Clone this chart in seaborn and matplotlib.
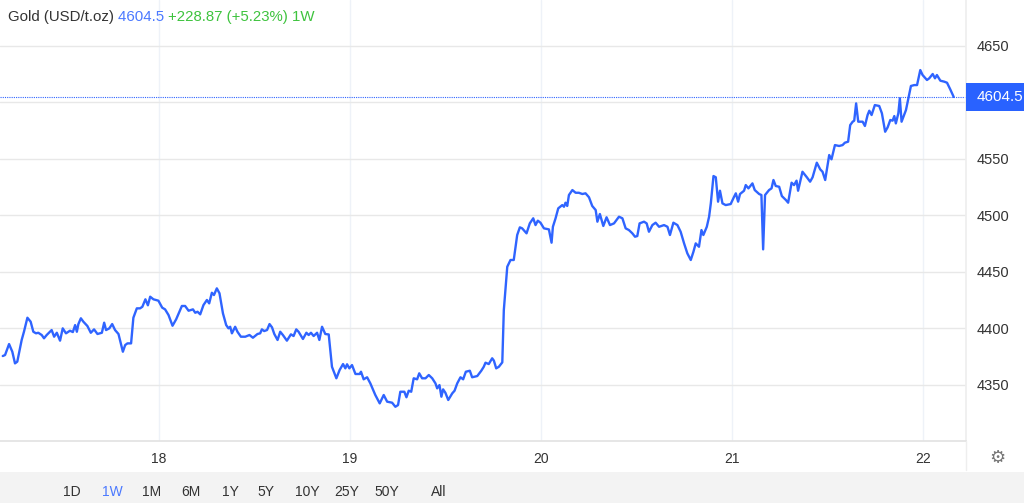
import numpy as np
import pandas as pd
import matplotlib
matplotlib.use("Agg")
import matplotlib.pyplot as plt
import matplotlib.transforms as mtransforms
from matplotlib.lines import Line2D
from matplotlib.patches import Rectangle
import seaborn as sns

# Gold price, one week (day of month, USD/t.oz)
day = [
    17.181, 17.193, 17.214, 17.231, 17.245, 17.257, 17.280, 17.292, 17.310, 17.327,
    17.341, 17.355, 17.367, 17.385, 17.397, 17.411, 17.437, 17.450, 17.464, 17.481,
    17.495, 17.512, 17.533, 17.548, 17.560, 17.569, 17.577, 17.590, 17.603, 17.624,
    17.642, 17.659, 17.677, 17.700, 17.712, 17.722, 17.739, 17.754, 17.769, 17.787,
    17.810, 17.822, 17.834, 17.853, 17.865, 17.883, 17.900, 17.912, 17.928, 17.941,
    17.953, 17.970, 17.996, 18.016, 18.031, 18.049, 18.070, 18.089, 18.119, 18.136,
    18.154, 18.177, 18.189, 18.201, 18.215, 18.232, 18.250, 18.262, 18.276, 18.287,
    18.302, 18.316, 18.334, 18.351, 18.363, 18.372, 18.381, 18.398, 18.410, 18.428,
    18.451, 18.473, 18.491, 18.515, 18.529, 18.538, 18.550, 18.565, 18.578, 18.591,
    18.603, 18.620, 18.634, 18.648, 18.669, 18.690, 18.704, 18.718, 18.730, 18.753,
    18.771, 18.783, 18.795, 18.809, 18.827, 18.839, 18.853, 18.870, 18.888, 18.905,
    18.928, 18.945, 18.963, 18.975, 18.984, 18.996, 19.010, 19.028, 19.050, 19.057,
    19.071, 19.089, 19.106, 19.132, 19.155, 19.176, 19.194, 19.220, 19.237, 19.251,
    19.263, 19.284, 19.295, 19.307, 19.320, 19.333, 19.351, 19.362, 19.377, 19.395,
    19.412, 19.430, 19.447, 19.456, 19.468, 19.478, 19.487, 19.499, 19.514, 19.535,
    19.547, 19.561, 19.578, 19.592, 19.606, 19.627, 19.639, 19.666, 19.687, 19.700,
    19.709, 19.726, 19.744, 19.753, 19.765, 19.779, 19.797, 19.805, 19.823, 19.840,
    19.857, 19.875, 19.889, 19.901, 19.924, 19.941, 19.959, 19.971, 19.983, 19.997,
    20.015, 20.041, 20.055, 20.062, 20.076, 20.090, 20.111, 20.120, 20.128, 20.137,
    20.146, 20.164, 20.181, 20.198, 20.216, 20.233, 20.251, 20.268, 20.286, 20.295,
    20.308, 20.326, 20.343, 20.361, 20.382, 20.408, 20.426, 20.443, 20.460, 20.478,
    20.492, 20.504, 20.516, 20.539, 20.553, 20.565, 20.583, 20.600, 20.618, 20.644,
    20.662, 20.675, 20.693, 20.714, 20.731, 20.749, 20.766, 20.784, 20.798, 20.810,
    20.827, 20.840, 20.850, 20.868, 20.880, 20.889, 20.903, 20.915, 20.927, 20.937,
    20.950, 20.967, 20.993, 21.011, 21.020, 21.032, 21.042, 21.063, 21.072, 21.086,
    21.107, 21.119, 21.142, 21.154, 21.163, 21.173, 21.194, 21.207, 21.217, 21.229,
    21.247, 21.261, 21.282, 21.294, 21.312, 21.325, 21.338, 21.346, 21.369, 21.392,
    21.409, 21.422, 21.444, 21.462, 21.474, 21.488, 21.509, 21.521, 21.539, 21.561,
    21.579, 21.591, 21.608, 21.619, 21.632, 21.640, 21.650, 21.661, 21.684, 21.696,
    21.710, 21.719, 21.731, 21.748, 21.771, 21.785, 21.802, 21.815, 21.829, 21.841,
    21.850, 21.858, 21.871, 21.879, 21.888, 21.911, 21.937, 21.954, 21.969, 21.986,
    21.998, 22.021, 22.033, 22.051, 22.063, 22.073, 22.091, 22.112, 22.126, 22.143,
    22.161,
]
price = [
    4375.2, 4376.1, 4385.8, 4379.0, 4368.7, 4370.2, 4389.4, 4396.7, 4409.1, 4405.6,
    4396.7, 4395.3, 4395.8, 4393.8, 4390.9, 4393.8, 4398.2, 4392.3, 4395.8, 4388.8,
    4399.7, 4395.3, 4397.6, 4396.4, 4402.6, 4396.7, 4403.5, 4408.6, 4405.6, 4401.8,
    4395.8, 4398.8, 4394.7, 4395.8, 4404.7, 4398.2, 4399.7, 4403.5, 4398.2, 4394.7,
    4379.0, 4384.9, 4386.4, 4386.4, 4409.1, 4417.4, 4417.4, 4418.8, 4425.4, 4420.1,
    4427.7, 4425.4, 4424.2, 4418.0, 4416.5, 4411.5, 4402.0, 4407.7, 4419.5, 4419.5,
    4415.3, 4416.5, 4413.5, 4414.4, 4412.1, 4420.3, 4424.8, 4421.8, 4431.2, 4429.2,
    4435.1, 4430.7, 4413.0, 4402.6, 4399.7, 4401.1, 4395.3, 4401.1, 4396.7, 4392.3,
    4392.3, 4393.8, 4391.4, 4394.7, 4395.3, 4398.8, 4397.3, 4398.2, 4403.5, 4400.6,
    4394.7, 4389.4, 4396.7, 4393.8, 4388.8, 4394.4, 4392.9, 4398.8, 4396.7, 4390.3,
    4395.8, 4393.8, 4395.8, 4392.9, 4395.8, 4389.4, 4401.1, 4394.7, 4394.3, 4365.7,
    4355.5, 4362.8, 4368.1, 4364.3, 4367.9, 4364.3, 4367.2, 4359.3, 4359.3, 4361.3,
    4354.6, 4356.4, 4351.0, 4340.7, 4333.3, 4340.7, 4334.8, 4333.9, 4330.3, 4331.8,
    4343.6, 4343.6, 4338.7, 4344.5, 4343.6, 4355.5, 4354.6, 4359.9, 4355.5, 4355.5,
    4358.4, 4355.5, 4351.0, 4346.6, 4349.5, 4339.2, 4345.7, 4342.7, 4336.3, 4342.2,
    4344.5, 4351.0, 4356.4, 4354.6, 4361.3, 4362.2, 4356.4, 4357.5, 4362.2, 4365.7,
    4369.3, 4368.1, 4373.2, 4371.1, 4364.3, 4365.7, 4369.6, 4415.9, 4454.2, 4460.2,
    4460.2, 4482.3, 4489.1, 4488.2, 4483.8, 4492.6, 4497.1, 4491.1, 4495.0, 4493.2,
    4488.2, 4487.3, 4475.5, 4489.6, 4497.1, 4505.9, 4508.8, 4507.3, 4510.9, 4508.0,
    4517.7, 4522.1, 4519.7, 4519.7, 4518.6, 4519.2, 4515.7, 4508.0, 4504.4, 4494.1,
    4500.9, 4490.3, 4498.0, 4491.1, 4492.6, 4498.5, 4497.1, 4488.2, 4486.7, 4483.8,
    4480.8, 4481.4, 4492.6, 4494.1, 4492.6, 4485.2, 4491.1, 4493.2, 4489.6, 4491.1,
    4489.6, 4482.3, 4493.2, 4491.1, 4485.2, 4474.9, 4466.1, 4460.2, 4467.5, 4474.9,
    4471.9, 4486.7, 4482.3, 4489.6, 4498.5, 4510.3, 4534.5, 4533.4, 4511.8, 4521.5,
    4510.3, 4508.8, 4509.7, 4516.2, 4519.2, 4511.8, 4518.6, 4521.5, 4526.5, 4523.6,
    4528.0, 4522.1, 4518.6, 4517.7, 4469.6, 4517.7, 4522.1, 4523.6, 4531.0, 4525.7,
    4525.0, 4516.8, 4513.3, 4510.9, 4528.6, 4526.5, 4530.4, 4521.5, 4538.3, 4533.4,
    4529.5, 4533.4, 4546.3, 4540.4, 4538.3, 4531.0, 4553.1, 4549.3, 4561.9, 4561.1,
    4561.9, 4564.0, 4564.9, 4579.6, 4582.6, 4583.5, 4598.8, 4582.6, 4582.6, 4578.8,
    4588.5, 4592.3, 4588.5, 4597.3, 4596.5, 4590.0, 4573.7, 4577.6, 4584.1, 4583.5,
    4587.6, 4581.1, 4590.0, 4603.3, 4582.6, 4592.9, 4614.2, 4615.0, 4615.0, 4628.3,
    4623.9, 4619.5, 4621.0, 4624.8, 4621.0, 4623.9, 4618.9, 4618.0, 4617.1, 4611.2,
    4604.5,
]

x_ticks = [18, 19, 20, 21, 22]
x_labels = ["18", "19", "20", "21", "22"]
y_ticks = [4350, 4400, 4450, 4500, 4550, 4600, 4650]
# 4600 sits under the last-price tag, so its label is not shown
y_labels = ["4350", "4400", "4450", "4500", "4550", "", "4650"]
last_price = 4604.5
change_text = "+228.87 (+5.23%) 1W"
periods = ["1D", "1W", "1M", "6M", "1Y", "5Y", "10Y", "25Y", "50Y", "All"]
active_period = "1W"

df = pd.DataFrame({"day": day, "price": price})

sns.set_theme(style="white")
plt.rcParams["font.family"] = ["Liberation Sans", "DejaVu Sans"]

W, H = 1024, 503
fig = plt.figure(figsize=(W / 100, H / 100), dpi=100)
fig.patch.set_facecolor("white")

# plot area: x 0..966 px, y 0..441 px
ax = fig.add_axes([0, 1 - 441 / H, 966 / W, 441 / H])
sns.lineplot(data=df, x="day", y="price", ax=ax, color="#2f64ff", linewidth=1.7)

ax.set_xlim(17.1665, 22.2254)
ax.set_ylim(4300.0, 4690.3)
ax.set_xlabel("")
ax.set_ylabel("")

ax.set_xticks(x_ticks)
ax.set_xticklabels(x_labels)
ax.set_yticks(y_ticks)
ax.set_yticklabels(y_labels)
ax.yaxis.tick_right()
ax.tick_params(axis="x", length=0, pad=8, labelsize=10, labelcolor="#333333")
ax.tick_params(axis="y", length=0, pad=8, labelsize=10.5, labelcolor="#333333")

ax.grid(axis="y", color="#e8e8e8", linewidth=1)
ax.grid(axis="x", color="#eef2f8", linewidth=1)
for s in ["top", "left"]:
    ax.spines[s].set_visible(False)
ax.spines["bottom"].set_color("#e3e3e3")
ax.spines["right"].set_color("#eeeeee")

# last price line and tag
ax.axhline(last_price, color="#2f64ff", linestyle=(0, (1, 1)), linewidth=0.8)
tr = mtransforms.blended_transform_factory(ax.transAxes, ax.transData)
ax.add_patch(Rectangle((1.0, last_price - 12.4), 0.062, 24.8, transform=tr,
                       facecolor="#2962ff", edgecolor="none", clip_on=False, zorder=5))
ax.text(1.011, last_price, f"{last_price:.1f}", transform=tr, color="white",
        fontsize=11, va="center", ha="left", zorder=6, clip_on=False)

# separator below right axis column
fig.add_artist(Line2D([966 / W, 966 / W], [1 - 470 / H, 1 - 441 / H],
                      color="#eeeeee", linewidth=1))

# header
t1 = fig.text(8 / W, 1 - 17 / H, "Gold (USD/t.oz) ", fontsize=10.8, color="#333333", va="center")
t2 = ax.annotate(f"{last_price:.1f} ", xy=(1, 0), xycoords=t1, va="bottom",
                 fontsize=10.8, color="#4b79ff")
t3 = ax.annotate(change_text, xy=(1, 0), xycoords=t2, va="bottom",
                 fontsize=10.8, color="#3ec33e")

# bottom period bar
fig.add_artist(Rectangle((0, 0), 1, 31 / H, transform=fig.transFigure,
                         facecolor="#f3f3f3", edgecolor="none"))
period_x = [72, 112, 152, 191, 230, 266, 307, 347, 387, 439]
for label, px in zip(periods, period_x):
    fig.text(px / W, 1 - 492 / H, label, fontsize=10, ha="center", va="center",
             color="#4b79ff" if label == active_period else "#333333")

# settings gear
fig.text(997 / W, 1 - 458 / H, "\u2699", fontsize=13, ha="center", va="center",
         color="#777777", family=["DejaVu Sans"])

fig.savefig("out.png", dpi=100)
